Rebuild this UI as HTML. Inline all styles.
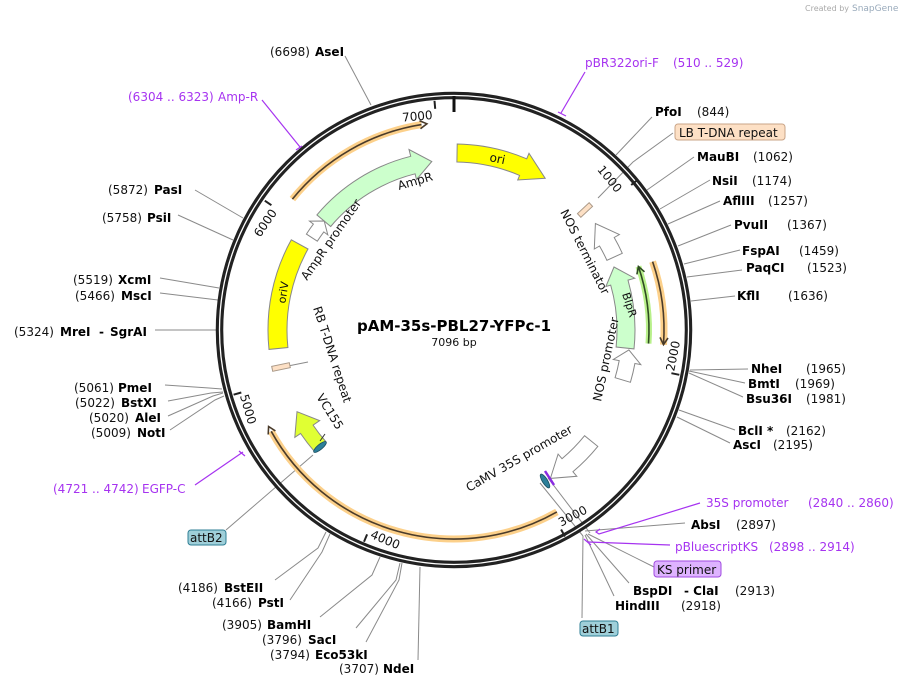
<!DOCTYPE html>
<html><head><meta charset="utf-8"><style>
html,body{margin:0;padding:0;background:#fff;}
svg{display:block;font-family:"DejaVu Sans","Liberation Sans",sans-serif;}
.n{font-size:12px;fill:#111;}
.b{font-size:12px;font-weight:bold;fill:#000;}
.p{font-size:12px;fill:#a633f0;}
.f{font-size:12px;fill:#111;}
.l{stroke:#8a8a8a;stroke-width:1;fill:none;}
.pl{stroke:#a633f0;stroke-width:1.2;fill:none;}
</style></head><body>
<svg width="902" height="688" viewBox="0 0 902 688" xmlns="http://www.w3.org/2000/svg">
<text x="805" y="11" font-size="8" fill="#aaa">Created by</text><text x="852" y="11" font-size="9" fill="#9ab">SnapGene</text>

<g class="l">
<polyline points="616,155 652,117"/>
<polyline points="598,198 633,162 673,133"/>
<polyline points="647,190 694,157"/>
<polyline points="660,209 710,180"/>
<polyline points="668,224 720,201"/>
<polyline points="678,246 731,225"/>
<polyline points="684,264 740,250"/>
<polyline points="687,277 742,270"/>
<polyline points="691,301 735,296"/>
<polyline points="690,370 748,369"/>
<polyline points="689,371 745,383"/>
<polyline points="689,373 743,397"/>
<polyline points="679,410 735,430"/>
<polyline points="677,417 730,443"/>
<polyline points="585,531 685,523"/>
<polyline points="588,534 654,567"/>
<polyline points="586,534 629,583"/>
<polyline points="585,535 614,596"/>
<polyline points="583,536 582,618"/>
<polyline points="540,483 583,536"/>
<polyline points="548,478 590,533"/>
<polyline points="420,567 418,660"/>
<polyline points="402,563 399,580 366,642"/>
<polyline points="400,563 396,580 356,628"/>
<polyline points="380,557 372,575 320,617"/>
<polyline points="330,534 322,552 290,600"/>
<polyline points="326,532 318,548 275,580"/>
<polyline points="313,455 226,530"/>
<polyline points="224,396 215,400 170,430"/>
<polyline points="223,393 213,396 168,416"/>
<polyline points="223,392 211,393 168,401"/>
<polyline points="222,389 209,388 165,385"/>
<polyline points="217,330 155,330"/>
<polyline points="218,300 160,293"/>
<polyline points="219,288 160,278"/>
<polyline points="233,240 178,215"/>
<polyline points="243,218 195,190"/>
<polyline points="371,105 345,56"/>
<polyline points="288,366 308,362"/>
</g>
<g class="pl">
<polyline points="300,147 262,100"/>
<polyline points="296,150 302,146"/>
<polyline points="561,113 585,72"/>
<polyline points="558,112 566,116"/>
<polyline points="243,452 195,485"/>
<polyline points="239,451 245,456"/>
<polyline points="600,529 596,532 599,534 700,503"/>
<polyline points="588,542 670,545"/>
<polyline points="584,539 591,545"/>
</g>

<circle cx="454" cy="330" r="234.5" fill="none" stroke="#222" stroke-width="7.5"/>
<circle cx="454" cy="330" r="234.5" fill="none" stroke="#fff" stroke-width="1.3"/>
<line x1="454" y1="96" x2="454" y2="112" stroke="#111" stroke-width="3"/>
<g stroke="#222" stroke-width="2">
<line x1="637.4" y1="180" x2="631.2" y2="185"/>
<line x1="679.3" y1="374.8" x2="671.4" y2="373.2"/>
<line x1="564.9" y1="536.5" x2="561.1" y2="529.5"/>
<line x1="364.0" y1="541.8" x2="367.1" y2="534.4"/>
<line x1="233.6" y1="394.7" x2="241.3" y2="392.5"/>
<line x1="264.8" y1="200.7" x2="271.4" y2="205.2"/>
<line x1="434.5" y1="100.8" x2="435.2" y2="108.8"/>
</g>
<g font-size="12" fill="#111">
<text transform="translate(454,330) rotate(50.7)" x="-3" y="-212" text-anchor="end">1000</text>
<text transform="translate(454,330) rotate(-78.5)" x="3" y="224" text-anchor="start">2000</text>
<text transform="translate(454,330) rotate(-27.8)" x="3" y="224" text-anchor="start">3000</text>
<text transform="translate(454,330) rotate(22.9)" x="3" y="224" text-anchor="start">4000</text>
<text transform="translate(454,330) rotate(73.7)" x="3" y="224" text-anchor="start">5000</text>
<text transform="translate(454,330) rotate(-55.6)" x="-3" y="-212" text-anchor="end">6000</text>
<text transform="translate(454,330) rotate(-4.9)" x="-3" y="-212" text-anchor="end">7000</text>
</g>

<g fill="none">
<path d="M292.4,199.1 A208 208 0 0 1 421.5,124.6" stroke="#fcd08a" stroke-width="7"/>
<path d="M292.4,199.1 A208 208 0 0 1 421.5,124.6" stroke="#4a3b2a" stroke-width="1.6"/>
<polyline points="420.5,128.7 426.9,123.8 419.5,120.7" stroke="#4a3b2a" stroke-width="1.6"/>
<path d="M556.9,511.9 A209 209 0 0 1 271.2,431.3" stroke="#fcd08a" stroke-width="7"/>
<path d="M556.9,511.9 A209 209 0 0 1 271.2,431.3" stroke="#4a3b2a" stroke-width="1.6"/>
<polyline points="275.4,430.9 268.6,426.5 268.2,434.5" stroke="#4a3b2a" stroke-width="1.6"/>
<path d="M652.6,261.6 A210 210 0 0 1 663.5,344.7" stroke="#fcd08a" stroke-width="7"/>
<path d="M652.6,261.6 A210 210 0 0 1 663.5,344.7" stroke="#4a3b2a" stroke-width="1.6"/>
<polyline points="668,338 663.5,344.7 660,337.4" stroke="#4a3b2a" stroke-width="1.6"/>
<path d="M648.5,343.6 A195 195 0 0 0 638.4,266.5" stroke="#b8f08a" stroke-width="6"/>
<path d="M648.5,343.6 A195 195 0 0 0 638.4,266.5" stroke="#2e4a22" stroke-width="1.6"/>
<polyline points="644.5,271.8 638.4,266.5 636.9,274.4" stroke="#2e4a22" stroke-width="1.6"/>
</g>

<g stroke="#888" stroke-width="1">
<path d="M457.2,144 A186 186 0 0 1 526.7,158.8 L529,153.3 L545.2,178.3 L517.7,180 L519.6,175.4 A168 168 0 0 0 456.9,162 Z" fill="#ffff00"/>
<path d="M316.9,214.9 A179 179 0 0 1 410.7,156.3 L409,149.5 L431.8,161.5 L416.5,179.6 L415.1,173.8 A161 161 0 0 0 330.7,226.5 Z" fill="#ccffcc"/>
<path d="M306.4,234.1 A176 176 0 0 1 313.4,224.1 L309.5,221.1 L324.2,221 L327.8,234.9 L323.8,231.9 A163 163 0 0 0 317.3,241.2 Z" fill="#fff"/>
<path d="M291.3,239.8 A186 186 0 0 0 269,349.4 L287.9,347.5 A167 167 0 0 1 308,249 Z" fill="#ffff00"/>
<path d="M314.4,451.4 A185 185 0 0 1 300.6,433.5 L294.8,437.4 L297,411.7 L319.7,420.6 L313.1,425.1 A170 170 0 0 0 325.7,441.5 Z" fill="#e0ff33"/>
<path d="M597.8,446.4 A185 185 0 0 1 572.9,471.7 L576.8,476.3 L550.4,478.4 L558.1,454.1 L562,458.7 A168 168 0 0 0 584.6,435.7 Z" fill="#fff"/>
<path d="M634,348.9 A181 181 0 0 0 628,280.1 L634.7,278.2 L614,267 L605.9,286.5 L610.7,285.1 A163 163 0 0 1 616.1,347 Z" fill="#ccffcc"/>
<path d="M630.4,382.3 A184 184 0 0 0 634.9,363.5 L640.8,364.6 L628.9,349.9 L613.3,359.5 L619.2,360.6 A168 168 0 0 1 615.1,377.7 Z" fill="#fff"/>
<path d="M622.3,253.3 A185 185 0 0 0 614.2,237.5 L619.4,234.5 L595.4,223.5 L594.3,249 L599.5,246 A168 168 0 0 1 606.9,260.3 Z" fill="#fff"/>
<rect x="-2.5" y="-8" width="5" height="16" fill="#fde0c5" stroke="#a98" transform="translate(585,210) rotate(47)"/>
<rect x="-9" y="-2.5" width="18" height="5" fill="#fde0c5" stroke="#a98" transform="translate(281,367) rotate(-12)"/>
</g>
<line x1="325" y1="434" x2="320" y2="441" stroke="#333" stroke-width="1"/>
<ellipse cx="320" cy="447" rx="8" ry="2.6" fill="#2c7f99" stroke="#1c4f60" stroke-width="0.8" transform="rotate(-40 320 447)"/>
<ellipse cx="545" cy="481" rx="8" ry="2.6" fill="#2c7f99" stroke="#1c4f60" stroke-width="0.8" transform="rotate(58 545 481)"/>
<line x1="545" y1="471" x2="554" y2="485" stroke="#8a2be2" stroke-width="2.5"/>

<g font-size="12" fill="#111">
<text transform="translate(489,161) rotate(12)">ori</text>
<text transform="translate(399,190) rotate(-16)">AmpR</text>
<text transform="translate(307,281) rotate(-55)">AmpR promoter</text>
<text transform="translate(287,293) rotate(-81)" font-size="11" text-anchor="middle">oriV</text>
<text transform="translate(313,308) rotate(72)">RB T-DNA repeat</text>
<text transform="translate(316,397) rotate(58)">VC155</text>
<text transform="translate(469,492) rotate(-30)">CaMV 35S promoter</text>
<text transform="translate(622,294) rotate(72)" font-size="11">BlpR</text>
<text transform="translate(601,402) rotate(-78)">NOS promoter</text>
<text transform="translate(560,212) rotate(63)">NOS terminator</text>
</g>
<text x="454" y="331" text-anchor="middle" font-size="15" font-weight="bold" fill="#000">pAM-35s-PBL27-YFPc-1</text>
<text x="454" y="346" text-anchor="middle" font-size="11" fill="#111">7096 bp</text>

<rect x="675" y="124" width="110" height="16" rx="3" fill="#fde0c5" stroke="#c9a487"/>
<text x="679" y="137" class="f">LB T-DNA repeat</text>
<rect x="654" y="561" width="67" height="16" rx="3" fill="#deb3ff" stroke="#a04be0"/>
<text x="657" y="574" class="f">KS primer</text>
<rect x="580" y="621" width="38" height="15" rx="3" fill="#9fcfd9" stroke="#2f7f95"/>
<text x="582" y="633" class="f">attB1</text>
<rect x="188" y="530" width="38" height="15" rx="3" fill="#9fcfd9" stroke="#2f7f95"/>
<text x="190" y="542" class="f">attB2</text>

<text x="655" y="116" class="b">PfoI</text><text x="697" y="116" class="n">(844)</text>
<text x="697" y="161" class="b">MauBI</text><text x="753" y="161" class="n">(1062)</text>
<text x="712" y="185" class="b">NsiI</text><text x="752" y="185" class="n">(1174)</text>
<text x="723" y="205" class="b">AflIII</text><text x="768" y="205" class="n">(1257)</text>
<text x="734" y="229" class="b">PvuII</text><text x="787" y="229" class="n">(1367)</text>
<text x="742" y="255" class="b">FspAI</text><text x="799" y="255" class="n">(1459)</text>
<text x="746" y="272" class="b">PaqCI</text><text x="807" y="272" class="n">(1523)</text>
<text x="737" y="300" class="b">KflI</text><text x="788" y="300" class="n">(1636)</text>
<text x="751" y="373" class="b">NheI</text><text x="806" y="373" class="n">(1965)</text>
<text x="748" y="388" class="b">BmtI</text><text x="795" y="388" class="n">(1969)</text>
<text x="746" y="403" class="b">Bsu36I</text><text x="806" y="403" class="n">(1981)</text>
<text x="738" y="435" class="b">BclI *</text><text x="786" y="435" class="n">(2162)</text>
<text x="733" y="449" class="b">AscI</text><text x="773" y="449" class="n">(2195)</text>
<text x="706" y="507" class="p">35S promoter</text><text x="808" y="507" class="p">(2840 .. 2860)</text>
<text x="691" y="529" class="b">AbsI</text><text x="736" y="529" class="n">(2897)</text>
<text x="675" y="551" class="p">pBluescriptKS</text><text x="769" y="551" class="p">(2898 .. 2914)</text>
<text x="633" y="595" class="b">BspDI</text><text x="684" y="595" class="b">- ClaI</text><text x="735" y="595" class="n">(2913)</text>
<text x="615" y="610" class="b">HindIII</text><text x="681" y="610" class="n">(2918)</text>
<text x="585" y="67" class="p">pBR322ori-F</text><text x="673" y="67" class="p">(510 .. 529)</text>

<text x="339" y="673" class="n">(3707)</text><text x="383" y="673" class="b">NdeI</text>
<text x="270" y="659" class="n">(3794)</text><text x="315" y="659" class="b">Eco53kI</text>
<text x="262" y="644" class="n">(3796)</text><text x="308" y="644" class="b">SacI</text>
<text x="222" y="629" class="n">(3905)</text><text x="267" y="629" class="b">BamHI</text>
<text x="212" y="607" class="n">(4166)</text><text x="258" y="607" class="b">PstI</text>
<text x="178" y="592" class="n">(4186)</text><text x="224" y="592" class="b">BstEII</text>
<text x="53" y="493" class="p">(4721 .. 4742)</text><text x="142" y="493" class="p">EGFP-C</text>
<text x="91" y="437" class="n">(5009)</text><text x="137" y="437" class="b">NotI</text>
<text x="89" y="422" class="n">(5020)</text><text x="135" y="422" class="b">AleI</text>
<text x="75" y="407" class="n">(5022)</text><text x="121" y="407" class="b">BstXI</text>
<text x="74" y="392" class="n">(5061)</text><text x="118" y="392" class="b">PmeI</text>
<text x="14" y="336" class="n">(5324)</text><text x="60" y="336" class="b">MreI</text><text x="99" y="336" class="b">-</text><text x="110" y="336" class="b">SgrAI</text>
<text x="75" y="300" class="n">(5466)</text><text x="121" y="300" class="b">MscI</text>
<text x="73" y="284" class="n">(5519)</text><text x="118" y="284" class="b">XcmI</text>
<text x="102" y="222" class="n">(5758)</text><text x="147" y="222" class="b">PsiI</text>
<text x="108" y="194" class="n">(5872)</text><text x="154" y="194" class="b">PasI</text>
<text x="128" y="101" class="p">(6304 .. 6323)</text><text x="218" y="101" class="p">Amp-R</text>
<text x="270" y="56" class="n">(6698)</text><text x="315" y="56" class="b">AseI</text>
</svg>
</body></html>
